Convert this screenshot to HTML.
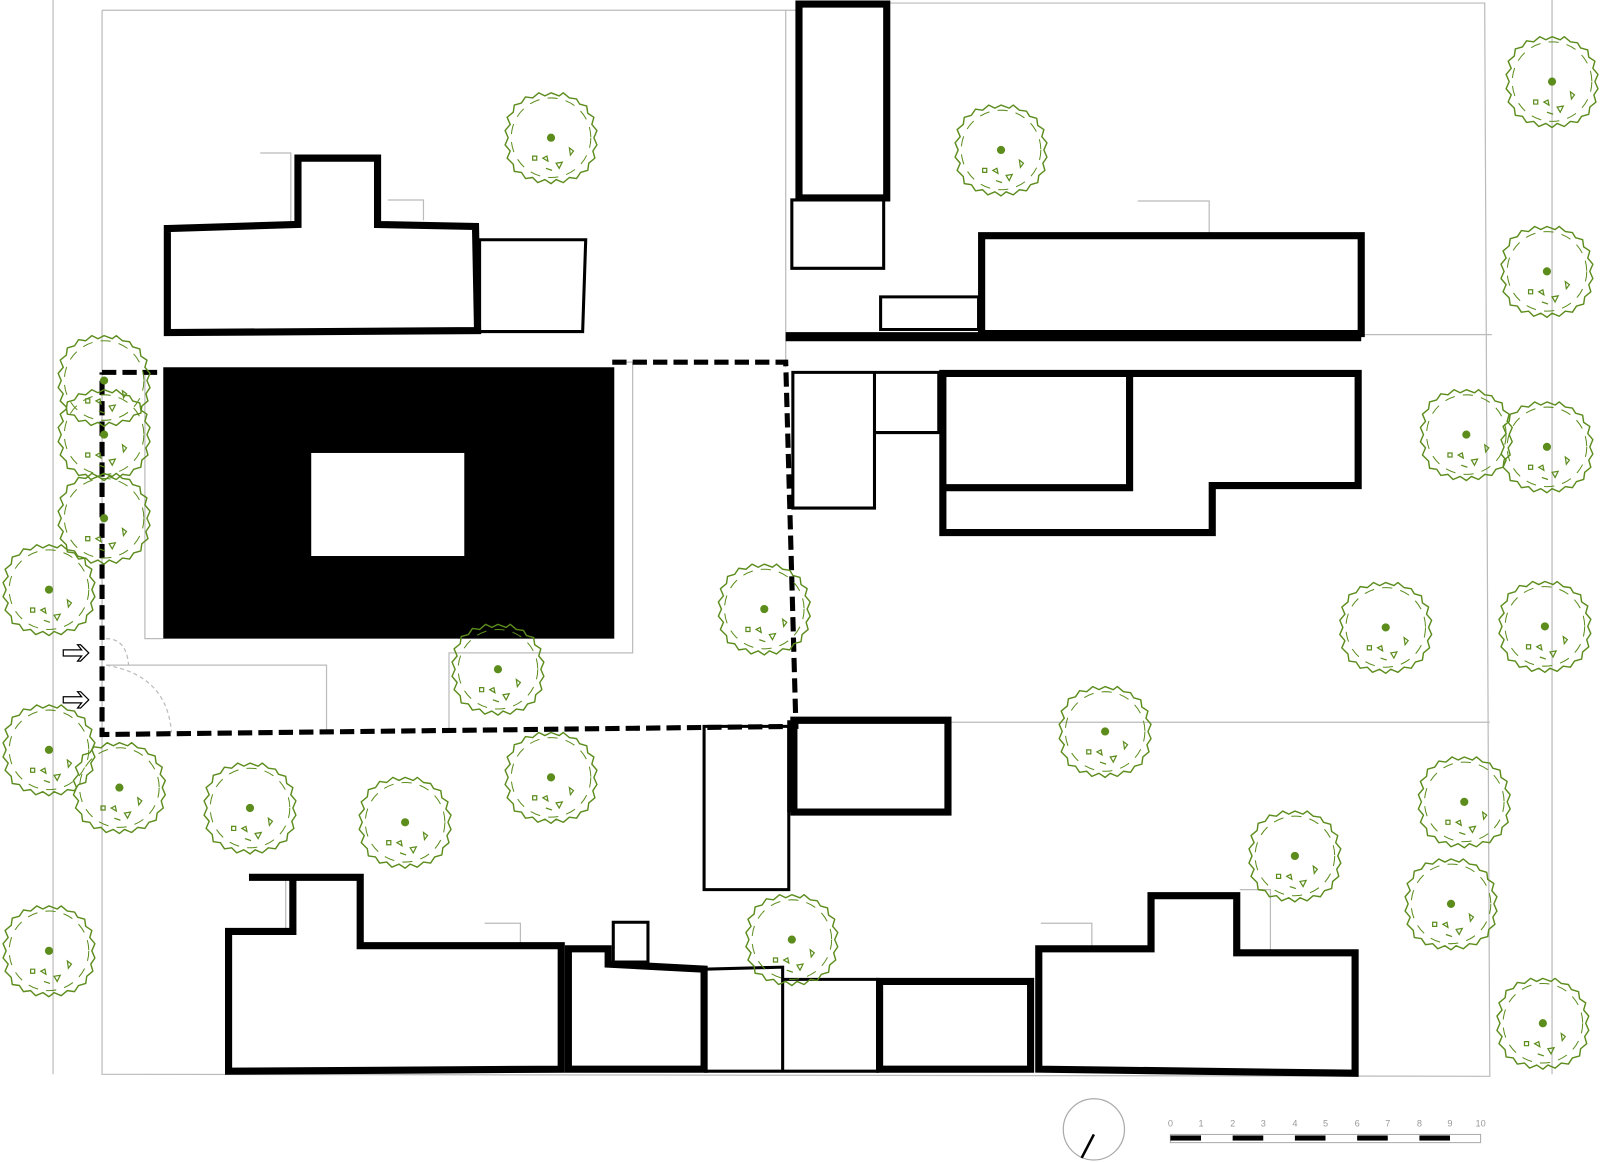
<!DOCTYPE html>
<html><head><meta charset="utf-8"><style>html,body{margin:0;padding:0;background:#fff}svg{display:block}</style></head>
<body>
<svg width="1600" height="1162" viewBox="0 0 1568 1139" preserveAspectRatio="none" xmlns="http://www.w3.org/2000/svg">
<defs>
<g id="t">
<path d="M0-44L8-41 12-44 18-39 25-38 28-33 35-31 36-24 42-20 40-13 45-7 42 0 45 7 41 13 43 20 37 25 36 32 29 34 25 40 18 39 12 44 5 41 0 45-6 41-13 44-18 39-25 40-29 34-36 33-37 26-43 20-40 13-45 7-42 0-45-7-40-13-43-20-37-25-36-32-29-34-25-40-18-39-12-44-6-41Z" fill="none" stroke="#5b8c1c" stroke-width="1.4" stroke-linejoin="round"/>
<circle r="39" fill="none" stroke="#5b8c1c" stroke-width="1" stroke-dasharray="10 8"/>
<path d="M-8 20l4 -2 1 5z M5 25l3 5 3-6z M-18 18h4v4h-4z M18 10l4 3-3 4z M-5 30l6 2" fill="none" stroke="#5b8c1c" stroke-width="1.2"/>
<circle r="4" fill="#5b8c1c"/>
</g>
</defs>
<g fill="none" stroke="#bbb" stroke-width="1.2">
<path d="M100 10L780 10M870 3L1455 3L1460 1055L100 1053L100 10"/>
<path d="M52 0V1053M1521 0V1053M1334 328H1462M929 708H1460M770 10V360"/>
<path d="M142 365V626H160M602 355H620V640H440V715M320 715V652H104M255 150h30v70M380 196h35v20M1115 197h70v32M475 905h35v22M1020 905h50v25M1215 872h30v60M255 862h25v50"/>
<path d="M104 652q60 10 64 66M104 626q20 0 22 26" stroke-dasharray="4 3"/>
</g>
<g fill="none" stroke="#000" stroke-width="7" stroke-linejoin="miter">
<path d="M164 224L292 220V155H370V220L466 222L468 324L164 326Z"/>
<path d="M783 4H869V194H783Z"/>
<path d="M962 231H1334V327H962Z"/>
<path d="M770 330H1334" stroke-width="9"/>
<path d="M924 366H1331V476H1188V522H924ZM924 478H1107V366"/>
<path d="M778 706H929V796H778Z"/>
<path d="M776 706V796" stroke-width="9"/>
<path d="M244 860H353V927H550V1048L224 1050V913H287V862"/>
<path d="M557 930H596V945L690 950V1048H557Z"/>
<path d="M862 962H1010V1048H862Z"/>
<path d="M1018 930H1128V878H1212V934H1328V1052L1018 1048Z"/>
</g>
<g fill="none" stroke="#000" stroke-width="3">
<path d="M470 235H574L571 325H470Z"/>
<path d="M776 196H866V263H776Z"/>
<path d="M863 291H959V323H863Z"/>
<path d="M777 365H857V498H777ZM857 365H920V424H857Z"/>
<path d="M690 712H773V872H690Z"/>
<path d="M601 904H635V943H601Z"/>
<path d="M690 950L767 948V1050H690M767 960H860V1050H767"/>
</g>
<rect x="160" y="360" width="442" height="266" fill="#000"/>
<rect x="305" y="444" width="150" height="101" fill="#fff"/>
<path d="M100 365H155" fill="none" stroke="#000" stroke-width="5" stroke-dasharray="14 6"/>
<path d="M600 355H770L780 712L100 720L100 365" fill="none" stroke="#000" stroke-width="5" stroke-dasharray="14 6"/>
<g fill="#fff" stroke="#000" stroke-width="1.2" stroke-linejoin="miter">
<path d="M62 637h18l-4-5h3l8 8-8 8h-3l4-5h-18z"/>
<path d="M62 683h18l-4-5h3l8 8-8 8h-3l4-5h-18z"/>
</g>
<g>
<use href="#t" x="540" y="135"/><use href="#t" x="981" y="147"/><use href="#t" x="1521" y="80"/><use href="#t" x="1516" y="266"/>
<use href="#t" x="102" y="373"/><use href="#t" x="102" y="426"/><use href="#t" x="102" y="508"/><use href="#t" x="48" y="578"/>
<use href="#t" x="1437" y="426"/><use href="#t" x="1516" y="438"/><use href="#t" x="749" y="597"/><use href="#t" x="1358" y="615"/>
<use href="#t" x="1514" y="614"/><use href="#t" x="488" y="656"/><use href="#t" x="1083" y="717"/><use href="#t" x="48" y="735"/>
<use href="#t" x="117" y="772"/><use href="#t" x="245" y="792"/><use href="#t" x="397" y="806"/><use href="#t" x="540" y="762"/>
<use href="#t" x="1435" y="786"/><use href="#t" x="1269" y="839"/><use href="#t" x="1422" y="886"/><use href="#t" x="776" y="921"/>
<use href="#t" x="48" y="932"/><use href="#t" x="1512" y="1003"/>
</g>
<circle cx="1072" cy="1107" r="30" fill="none" stroke="#aaa" stroke-width="1.2"/>
<path d="M1060 1135L1072 1112" stroke="#000" stroke-width="2.5"/>
<rect x="1147" y="1112" width="304" height="8" fill="none" stroke="#aaa" stroke-width="1"/>
<g fill="#000">
<rect x="1147" y="1113" width="30" height="5"/><rect x="1208" y="1113" width="30" height="5"/><rect x="1269" y="1113" width="30" height="5"/><rect x="1330" y="1113" width="30" height="5"/><rect x="1391" y="1113" width="30" height="5"/>
</g>
<g font-family="Liberation Sans, sans-serif" font-size="9" fill="#999" text-anchor="middle">
<text x="1147" y="1104">0</text><text x="1177" y="1104">1</text><text x="1208" y="1104">2</text><text x="1238" y="1104">3</text><text x="1269" y="1104">4</text><text x="1299" y="1104">5</text><text x="1330" y="1104">6</text><text x="1360" y="1104">7</text><text x="1391" y="1104">8</text><text x="1421" y="1104">9</text><text x="1451" y="1104">10</text>
</g>
</svg>
</body></html>
